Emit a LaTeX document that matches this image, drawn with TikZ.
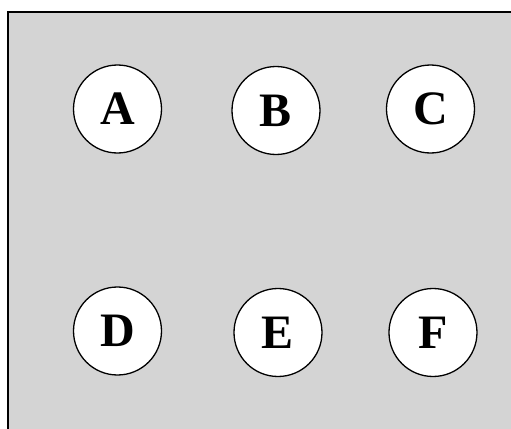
\documentclass[tikz,border=0pt]{standalone}
\usepackage{fontspec}
\setmainfont{Liberation Serif}
\usetikzlibrary{positioning}
\definecolor{panelgray}{RGB}{212, 212, 212}

\begin{document}
\begin{tikzpicture}[x=0.5pt, y=-0.5pt,
                letter/.style={circle, draw=black, line width=0.65pt,
                    fill=white, minimum size=44pt, inner sep=0pt,
                    font=\fontsize{24}{28}\selectfont\bfseries}
            ]
            \useasboundingbox (0, 0) rectangle (511, 429);

            % panel
            \fill[panelgray] (8, 12) rectangle (511, 429);
            \draw[line width=0.7pt] (8, 429) -- (8, 12) -- (511, 12);

            % top row
            \node[letter] (a) at (117.5, 109) {A};
            \node[letter] (b) at (276, 110.5) {B};
            \node[letter] (c) at (430.5, 109) {C};

            % bottom row
            \node[letter] (d) at (117.5, 331) {D};
            \node[letter] (e) at (278, 332.5) {E};
            \node[letter] (f) at (433, 332.5) {F};

\end{tikzpicture}
\end{document}
